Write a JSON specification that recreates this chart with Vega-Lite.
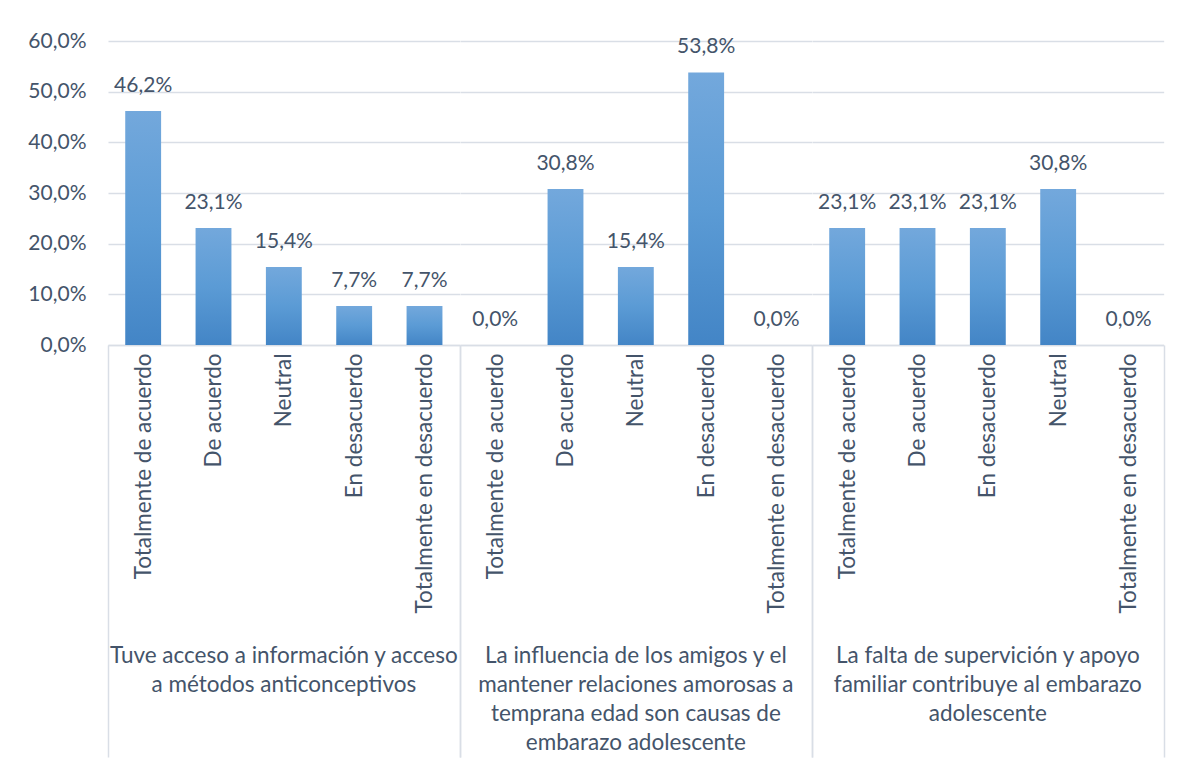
{
  "$schema": "https://vega.github.io/schema/vega-lite/v6.json",
  "autosize": {"type": "pad"},
  "padding": {"left": 27, "top": 30, "right": 23, "bottom": 4},
  "background": "white",
  "bounds": "flush",
  "data": {
    "values": [
      {"grupo": "Tuve acceso a información y acceso\na métodos anticonceptivos", "g": 1, "respuesta": "Totalmente de acuerdo", "o": 1, "valor": 0.462},
      {"grupo": "Tuve acceso a información y acceso\na métodos anticonceptivos", "g": 1, "respuesta": "De acuerdo", "o": 2, "valor": 0.231},
      {"grupo": "Tuve acceso a información y acceso\na métodos anticonceptivos", "g": 1, "respuesta": "Neutral", "o": 3, "valor": 0.154},
      {"grupo": "Tuve acceso a información y acceso\na métodos anticonceptivos", "g": 1, "respuesta": "En desacuerdo", "o": 4, "valor": 0.077},
      {"grupo": "Tuve acceso a información y acceso\na métodos anticonceptivos", "g": 1, "respuesta": "Totalmente en desacuerdo", "o": 5, "valor": 0.077},
      {"grupo": "La influencia de los amigos y el\nmantener relaciones amorosas a\ntemprana edad son causas de\nembarazo adolescente", "g": 2, "respuesta": "Totalmente de acuerdo", "o": 1, "valor": 0.0},
      {"grupo": "La influencia de los amigos y el\nmantener relaciones amorosas a\ntemprana edad son causas de\nembarazo adolescente", "g": 2, "respuesta": "De acuerdo", "o": 2, "valor": 0.308},
      {"grupo": "La influencia de los amigos y el\nmantener relaciones amorosas a\ntemprana edad son causas de\nembarazo adolescente", "g": 2, "respuesta": "Neutral", "o": 3, "valor": 0.154},
      {"grupo": "La influencia de los amigos y el\nmantener relaciones amorosas a\ntemprana edad son causas de\nembarazo adolescente", "g": 2, "respuesta": "En desacuerdo", "o": 4, "valor": 0.538},
      {"grupo": "La influencia de los amigos y el\nmantener relaciones amorosas a\ntemprana edad son causas de\nembarazo adolescente", "g": 2, "respuesta": "Totalmente en desacuerdo", "o": 5, "valor": 0.0},
      {"grupo": "La falta de supervición y apoyo\nfamiliar contribuye al embarazo\nadolescente", "g": 3, "respuesta": "Totalmente de acuerdo", "o": 1, "valor": 0.231},
      {"grupo": "La falta de supervición y apoyo\nfamiliar contribuye al embarazo\nadolescente", "g": 3, "respuesta": "De acuerdo", "o": 2, "valor": 0.231},
      {"grupo": "La falta de supervición y apoyo\nfamiliar contribuye al embarazo\nadolescente", "g": 3, "respuesta": "En desacuerdo", "o": 3, "valor": 0.231},
      {"grupo": "La falta de supervición y apoyo\nfamiliar contribuye al embarazo\nadolescente", "g": 3, "respuesta": "Neutral", "o": 4, "valor": 0.308},
      {"grupo": "La falta de supervición y apoyo\nfamiliar contribuye al embarazo\nadolescente", "g": 3, "respuesta": "Totalmente en desacuerdo", "o": 5, "valor": 0.0}
    ]
  },
  "facet": {
    "column": {
      "field": "grupo",
      "type": "nominal",
      "sort": {"field": "g", "op": "min"},
      "title": null,
      "header": {
        "labelOrient": "bottom",
        "labelExpr": "split(datum.value, '\\n')",
        "labelFont": "Lato",
        "labelFontSize": 22.5,
        "labelColor": "#44546A",
        "labelLineHeight": 29,
        "labelBaseline": "top",
        "labelPadding": 300,
        "labelLimit": 0
      }
    }
  },
  "spacing": 0,
  "resolve": {"scale": {"x": "independent"}},
  "spec": {
    "width": 351.67,
    "height": 304,
    "encoding": {
      "x": {
        "field": "respuesta",
        "type": "nominal",
        "sort": {"field": "o", "op": "min"},
        "title": null,
        "scale": {"paddingInner": 0, "paddingOuter": 0},
        "axis": {
          "labelAngle": -90,
          "labelFont": "Lato",
          "labelFontSize": 22.5,
          "labelColor": "#44546A",
          "labelPadding": -404,
          "labelLimit": 0,
          "tickBand": "extent",
          "tickSize": 412,
          "tickWidth": 1.5,
          "tickColor": {"condition": {"test": "datum.extra || !isValid(datum.value) || datum.value === 'Totalmente en desacuerdo'", "value": "#D9DEE6"}, "value": "transparent"},
          "domainColor": "#D9DEE6",
          "domainWidth": 1.5
        }
      },
      "y": {
        "field": "valor",
        "type": "quantitative",
        "title": null,
        "scale": {"domain": [0, 0.6], "nice": false},
        "axis": {
          "values": [0, 0.1, 0.2, 0.3, 0.4, 0.5, 0.6],
          "format": ".1%",
          "domain": false,
          "ticks": false,
          "labelPadding": 22,
          "labelFont": "Lato",
          "labelFontSize": 21,
          "labelColor": "#44546A",
          "gridColor": "#D9DEE6",
          "gridWidth": 1.5
        }
      }
    },
    "layer": [
      {
        "mark": {
          "type": "bar",
          "width": {"band": 0.51},
          "color": {
            "gradient": "linear",
            "x1": 0, "y1": 0, "x2": 0, "y2": 1,
            "stops": [
              {"offset": 0, "color": "#73A8DC"},
              {"offset": 0.5, "color": "#5B9BD5"},
              {"offset": 1, "color": "#4385C6"}
            ]
          }
        }
      },
      {
        "mark": {"type": "text", "baseline": "alphabetic", "dy": -19, "font": "Lato", "fontSize": 21, "color": "#44546A"},
        "encoding": {"text": {"field": "valor", "type": "quantitative", "format": ".1%"}}
      }
    ]
  },
  "config": {
    "locale": {"number": {"decimal": ",", "thousands": ".", "grouping": [3], "currency": ["", " €"]}},
    "view": {"stroke": null}
  }
}
